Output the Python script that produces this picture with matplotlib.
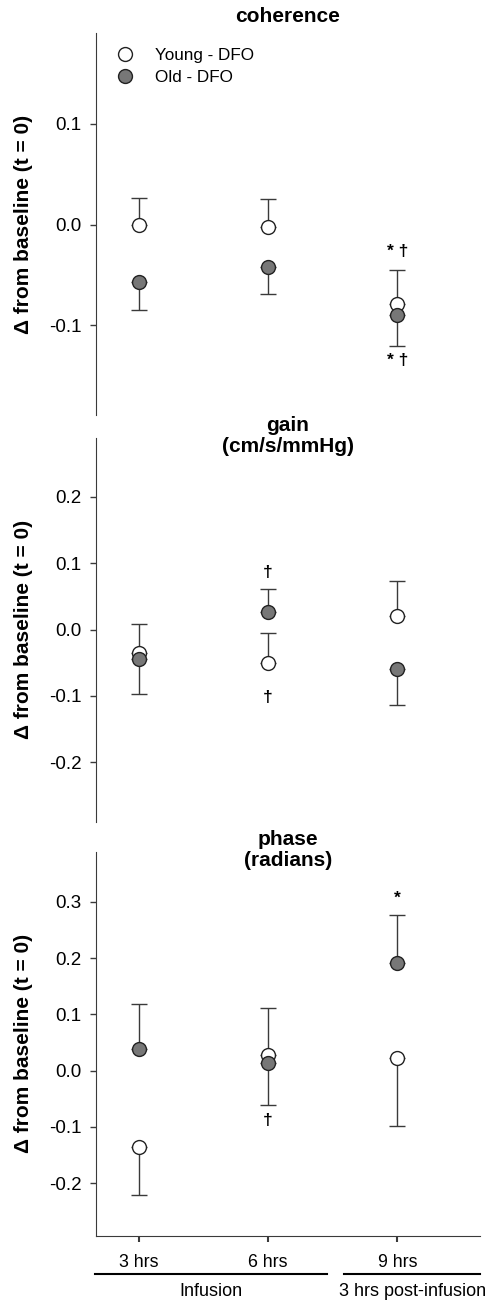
import numpy as np
import matplotlib
matplotlib.use("Agg")
import matplotlib.pyplot as plt

plt.rcParams['font.family'] = ['Liberation Sans', 'DejaVu Sans']

# time points
times = ['3 hrs', '6 hrs', '9 hrs']
x = np.array([1, 2, 3])

# coherence
coh_young = [0.0, -0.002, -0.079]
coh_young_lo = [0.0, 0.0, 0.0]
coh_young_hi = [0.026, 0.027, 0.034]
coh_old = [-0.057, -0.042, -0.090]
coh_old_lo = [0.028, 0.027, 0.030]
coh_old_hi = [0.0, 0.0, 0.0]

# gain
gain_young = [-0.036, -0.051, 0.021]
gain_young_lo = [0.0, 0.0, 0.0]
gain_young_hi = [0.045, 0.045, 0.052]
gain_old = [-0.045, 0.027, -0.060]
gain_old_lo = [0.052, 0.0, 0.054]
gain_old_hi = [0.0, 0.034, 0.0]

# phase
phase_young = [-0.136, 0.028, 0.023]
phase_young_lo = [0.084, 0.0, 0.121]
phase_young_hi = [0.0, 0.083, 0.0]
phase_old = [0.038, 0.014, 0.191]
phase_old_lo = [0.0, 0.075, 0.0]
phase_old_hi = [0.080, 0.0, 0.085]

# significance marks: (time index, y value, text)
coh_marks = [(2, -0.027, '* †'), (2, -0.135, '* †')]
gain_marks = [(1, 0.086, '†'), (1, -0.102, '†')]
phase_marks = [(2, 0.306, '*'), (1, -0.089, '†')]

panels = [
    ('coherence', coh_young, coh_young_lo, coh_young_hi,
     coh_old, coh_old_lo, coh_old_hi, coh_marks, (-0.189, 0.19), [-0.1, 0.0, 0.1]),
    ('gain\n(cm/s/mmHg)', gain_young, gain_young_lo, gain_young_hi,
     gain_old, gain_old_lo, gain_old_hi, gain_marks, (-0.29, 0.289), [-0.2, -0.1, 0.0, 0.1, 0.2]),
    ('phase\n(radians)', phase_young, phase_young_lo, phase_young_hi,
     phase_old, phase_old_lo, phase_old_hi, phase_marks, (-0.293, 0.389), [-0.2, -0.1, 0.0, 0.1, 0.2, 0.3]),
]

fig = plt.figure(figsize=(4.89, 13.04), dpi=100)
boxes = [[0.196, 0.6817, 0.785, 0.293],
         [0.196, 0.3699, 0.785, 0.2942],
         [0.196, 0.0524, 0.785, 0.2945]]

line_col = '#3a3a3a'
for i, (title, yv, ylo, yhi, ov, olo, ohi, marks, ylim, yt) in enumerate(panels):
    ax = fig.add_axes(boxes[i])
    ax.errorbar(x, yv, yerr=[ylo, yhi], fmt='none', ecolor=line_col,
                elinewidth=1, capsize=6, capthick=1, zorder=2)
    ax.errorbar(x, ov, yerr=[olo, ohi], fmt='none', ecolor=line_col,
                elinewidth=1, capsize=6, capthick=1, zorder=2)
    ax.plot(x, yv, 'o', ms=10, mfc='white', mec='#222222', mew=1, ls='none',
            zorder=3, label='Young - DFO')
    ax.plot(x, ov, 'o', ms=10, mfc='#777777', mec='#222222', mew=1, ls='none',
            zorder=4, label='Old - DFO')
    for (k, yy, t) in marks:
        ax.text(x[k], yy, t, ha='center', va='center', fontsize=12.5,
                fontweight='bold')

    ax.set_xlim(0.668, 3.636)
    ax.set_ylim(*ylim)
    ax.set_yticks(yt)
    ax.set_yticklabels(['%.1f' % v for v in yt])
    for s in ['top', 'right']:
        ax.spines[s].set_visible(False)
    ax.spines['left'].set_color(line_col)
    ax.spines['bottom'].set_color(line_col)
    ax.tick_params(axis='y', direction='out', length=4.5, width=1, color=line_col,
                   labelsize=13.5, pad=6)
    ax.set_ylabel('Δ from baseline (t = 0)', fontsize=15, fontweight='bold')
    ax.yaxis.set_label_coords(-0.164, 0.5)
    if i == 0:
        ax.text(0.5, 1.042, title, transform=ax.transAxes, ha='center',
                va='center', fontsize=15, fontweight='bold')
    else:
        ax.text(0.5, 0.952, title, transform=ax.transAxes, ha='center',
                va='bottom', fontsize=15, fontweight='bold', linespacing=1.15)

    if i < 2:
        ax.spines['bottom'].set_visible(False)
        ax.set_xticks([])
    else:
        ax.set_xticks(x)
        ax.set_xticklabels(times)
        ax.tick_params(axis='x', direction='out', length=4.5, width=1.5,
                       color=line_col, labelsize=12.8, pad=9)
        tr = ax.get_xaxis_transform()
        ax.plot([0.66, 2.452], [-0.1, -0.1], color='black', lw=1.5,
                transform=tr, clip_on=False)
        ax.plot([2.583, 3.636], [-0.1, -0.1], color='black', lw=1.5,
                transform=tr, clip_on=False)
        ax.text(1.56, -0.145, 'Infusion', transform=tr, ha='center',
                va='center', fontsize=13)
        ax.text(3.116, -0.145, '3 hrs post-infusion', transform=tr,
                ha='center', va='center', fontsize=13)

    if i == 0:
        ax.legend(loc='upper left', bbox_to_anchor=(0.0013, 0.992), frameon=False,
                  fontsize=12.3, handletextpad=0.75, labelspacing=0.43,
                  borderaxespad=0.3)

fig.savefig('out.png', dpi=100)
